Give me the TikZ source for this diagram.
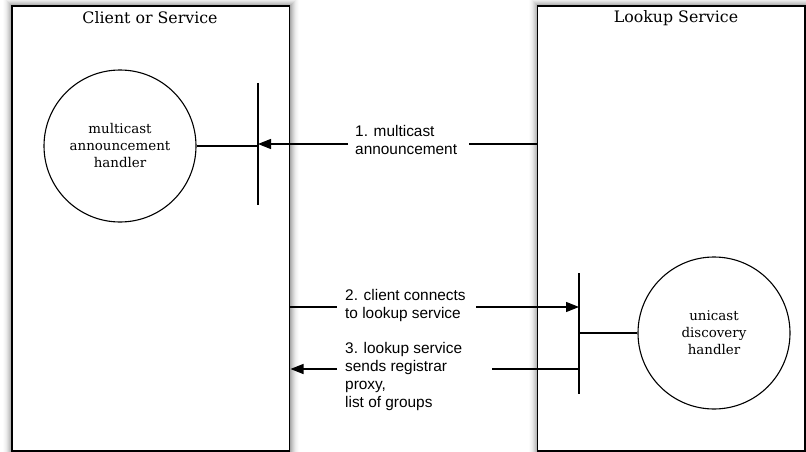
\documentclass[tikz,border=0pt]{standalone}
\usepackage{fontspec}
\newfontfamily\titlefont{DejaVu Serif}
\newfontfamily\labelfont{Liberation Sans}
\usetikzlibrary{arrows.meta}

\tikzset{
  sidebox/.style={draw, line width=1.3pt, fill=white},
  handler/.style={circle, draw, line width=1.1pt, minimum size=152pt,
    inner sep=0pt, align=center, font=\titlefont\fontsize{13.4}{17}\selectfont},
  boxtitle/.style={font=\titlefont\fontsize{15.8}{18}\selectfont},
  msg/.style={align=left, anchor=north west, inner sep=0pt,
    font=\labelfont\fontsize{15.4}{18}\selectfont},
  wire/.style={line width=1.1pt},
  port/.style={line width=1.3pt},
  tip/.style={-{Triangle[length=13pt,width=10pt]}},
}

% soft glow round a box: rings of fading grey, outermost first
\newcommand\glowbox[4]{%
  \foreach \k in {10,...,1}{%
    \pgfmathtruncatemacro\glowpct{42*(1-\k/11)^2}
    \fill[black!\glowpct]
      (#1-\k,#2-\k) rectangle (#3+\k,#4+\k);
  }%
  \path[sidebox] (#1,#2) rectangle (#3,#4);
}

\begin{document}
\begin{tikzpicture}[x=1pt,y=-1pt]
  \useasboundingbox (0,0) rectangle (806,452);

  % the two participants
  \begin{scope}
    \clip (0,0) rectangle (806,452);
    \glowbox{12}{6}{289.5}{451}
    \glowbox{537.5}{6}{805}{451}
  \end{scope}
  \node[boxtitle] (clienttitle) at (150,18) {Client or Service};
  \node[boxtitle] (lookuptitle) at (676,18) {Lookup Service};

  % handlers and their ports
  \node[handler] (mch) at (120,146) {multicast\\announcement\\handler};
  \node[handler] (udh) at (714,333) {unicast\\discovery\\handler};

  \coordinate (p1top) at (258,83);
  \coordinate (p1bot) at (258,205);
  \coordinate (p2top) at (579,273);
  \coordinate (p2bot) at (579,394);
  \draw[port] (p1top) -- (p1bot);
  \draw[port] (p2top) -- (p2bot);

  \draw[wire] (mch.east) -- (mch.east -| p1top);
  \draw[wire] (udh.west) -- (udh.west -| p2top);

  % message labels
  \node[msg] (m1) at (355,125) {1. multicast\\announcement};
  \node[msg] (m2) at (345,289) {2. client connects\\to lookup service};
  \node[msg] (m3) at (345,342) {3. lookup service\\sends registrar\\proxy,\\list of groups};

  % 1. multicast announcement
  \coordinate (a1from) at (537.5,144);
  \coordinate (a1gapR) at (469,144);
  \coordinate (a1gapL) at (348,144);
  \draw[wire] (a1from) -- (a1gapR);
  \draw[wire,tip] (a1gapL) -- (a1gapL -| p1top);

  % 2. client connects to lookup service
  \coordinate (a2from) at (289.5,307);
  \coordinate (a2gapL) at (337,307);
  \coordinate (a2gapR) at (476,307);
  \draw[wire] (a2from) -- (a2gapL);
  \draw[wire,tip] (a2gapR) -- (a2gapR -| p2top);

  % 3. lookup service replies
  \coordinate (a3gapR) at (492,369);
  \coordinate (a3gapL) at (337,369);
  \coordinate (a3to) at (290.5,369);
  \draw[wire] (a3gapR -| p2top) -- (a3gapR);
  \draw[wire,tip] (a3gapL) -- (a3to);
\end{tikzpicture}
\end{document}
